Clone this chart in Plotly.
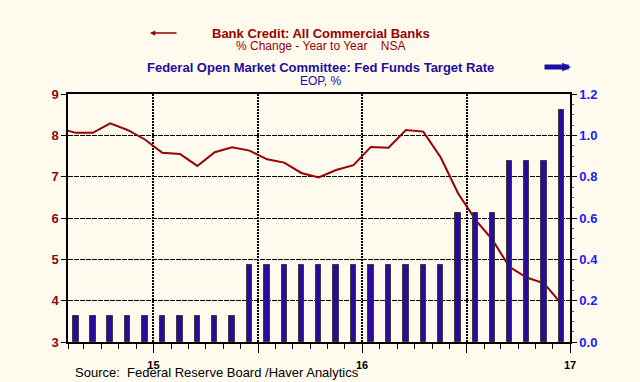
import plotly.graph_objects as go

# ---- data ----
months = ["2015-01-01", "2015-02-01", "2015-03-01", "2015-04-01", "2015-05-01", "2015-06-01",
          "2015-07-01", "2015-08-01", "2015-09-01", "2015-10-01", "2015-11-01", "2015-12-01",
          "2016-01-01", "2016-02-01", "2016-03-01", "2016-04-01", "2016-05-01", "2016-06-01",
          "2016-07-01", "2016-08-01", "2016-09-01", "2016-10-01", "2016-11-01", "2016-12-01",
          "2017-01-01", "2017-02-01", "2017-03-01", "2017-04-01", "2017-05-01", "2017-06-01"]
bank_credit_yoy = [8.17, 8.06, 8.06, 8.29, 8.13, 7.90, 7.58, 7.55, 7.26, 7.59, 7.71, 7.63,
                   7.42, 7.34, 7.09, 6.98, 7.16, 7.28, 7.72, 7.70, 8.13, 8.09, 7.47, 6.60,
                   5.95, 5.47, 4.82, 4.56, 4.42, 3.92]
fed_funds_target = [0.125, 0.125, 0.125, 0.125, 0.125, 0.125, 0.125, 0.125, 0.125, 0.125, 0.125, 0.375,
                    0.375, 0.375, 0.375, 0.375, 0.375, 0.375, 0.375, 0.375, 0.375, 0.375, 0.375, 0.625,
                    0.625, 0.625, 0.875, 0.875, 0.875, 1.125]
x_tickvals = ["2015-07-01", "2016-01-01", "2016-07-01", "2017-01-01", "2017-07-01"]
x_ticktext = ["15", "", "16", "", "17"]
left_ticks = [3, 4, 5, 6, 7, 8, 9]
right_ticks = [0.0, 0.2, 0.4, 0.6, 0.8, 1.0, 1.2]

BG = "#fffaee"
RED = "#990000"
DARK_RED = "#8a0a0a"
NAVY = "#1c0f9c"
BAR = "#2d0a9e"
BRIGHT_BLUE = "#1a1aff"
FONT = "Liberation Sans, Arial, sans-serif"

W, H = 640, 382
L, R, T, B = 68, 70, 94, 40
PW, PH = W - L - R, H - T - B


def px_x(px):
    return (px - L) / PW


def px_y(py):
    return (H - B - py) / PH


fig = go.Figure()
fig.add_trace(go.Bar(
    x=months, y=fed_funds_target, yaxis="y2",
    xperiod="M1", xperiodalignment="middle",
    width=8.3e8,
    marker=dict(color=BAR, line=dict(color="#3a3a3a", width=1)),
    showlegend=False, hoverinfo="skip",
))
fig.add_trace(go.Scatter(
    x=months, y=bank_credit_yoy, yaxis="y",
    xperiod="M1", xperiodalignment="middle",
    mode="lines", line=dict(color=RED, width=2),
    showlegend=False, hoverinfo="skip",
))

fig.update_layout(
    width=W, height=H,
    margin=dict(l=L, r=R, t=T, b=B),
    paper_bgcolor=BG, plot_bgcolor=BG,
    font=dict(family=FONT),
    bargap=0,
    xaxis=dict(
        type="date", range=["2015-02-01", "2017-07-01"],
        tickvals=x_tickvals, ticktext=x_ticktext,
        ticks="outside", ticklen=9, tickcolor="black", tickwidth=1,
        tickfont=dict(family=FONT, size=11, color="black", weight="bold"),
        ticklabelstandoff=3,
        showline=True, linecolor="black", linewidth=1.5, mirror=True,
        showgrid=True, gridcolor="black", gridwidth=1.5, griddash="2px,1px",
        minor=dict(dtick="M1", tick0="2015-02-01", ticks="outside", ticklen=5,
                   tickcolor="black", showgrid=False),
        zeroline=False,
    ),
    yaxis=dict(
        range=[3, 9], tickvals=left_ticks,
        ticks="outside", ticklen=5, tickcolor="black",
        tickfont=dict(family=FONT, size=13, color=DARK_RED, weight="bold"),
        showline=True, linecolor="black", linewidth=1.5,
        showgrid=True, gridcolor="black", gridwidth=1, griddash="5px,1px",
        zeroline=False,
    ),
    yaxis2=dict(
        range=[0, 1.2], tickvals=right_ticks, tickformat=".1f",
        overlaying="y", side="right",
        ticks="outside", ticklen=5, tickcolor="black",
        tickfont=dict(family=FONT, size=13, color=BRIGHT_BLUE, weight="bold"),
        showline=True, linecolor="black", linewidth=1.5,
        showgrid=False, zeroline=False,
        minor=dict(dtick=0.05, ticks="outside", ticklen=2, tickcolor="#555", showgrid=False),
    ),
)

# legend-like texts
fig.add_annotation(xref="paper", yref="paper", x=px_x(321), y=px_y(33),
                   text="<b>Bank Credit: All Commercial Banks</b>", showarrow=False,
                   font=dict(family=FONT, size=13, color=RED), xanchor="center", yanchor="middle")
fig.add_annotation(xref="paper", yref="paper", x=px_x(320), y=px_y(46),
                   text="% Change - Year to Year    NSA", showarrow=False,
                   font=dict(family=FONT, size=12, color=RED), xanchor="center", yanchor="middle")
fig.add_annotation(xref="paper", yref="paper", x=px_x(320), y=px_y(67),
                   text="<b>Federal Open Market Committee: Fed Funds Target Rate</b>", showarrow=False,
                   font=dict(family=FONT, size=13, color=NAVY), xanchor="center", yanchor="middle")
fig.add_annotation(xref="paper", yref="paper", x=px_x(320), y=px_y(81),
                   text="EOP, %", showarrow=False,
                   font=dict(family=FONT, size=12, color=NAVY), xanchor="center", yanchor="middle")
# red left arrow
fig.add_annotation(xref="paper", yref="paper", x=px_x(150), y=px_y(33), ax=28, ay=0,
                   text="", showarrow=True, arrowhead=2, arrowsize=0.7, arrowwidth=1.5,
                   arrowcolor=RED)
# blue right arrow
fig.add_annotation(xref="paper", yref="paper", x=px_x(571), y=px_y(67), ax=-28, ay=0,
                   text="", showarrow=True, arrowhead=2, arrowsize=0.35, arrowwidth=5,
                   arrowcolor=NAVY)
# source
fig.add_annotation(xref="paper", yref="paper", x=px_x(73), y=px_y(372),
                   text="Source:  Federal Reserve Board /Haver Analytics", showarrow=False,
                   font=dict(family=FONT, size=13, color="black"), xanchor="left", yanchor="middle")

fig.write_html("out.html",
               config={"displayModeBar": False},
               post_script="document.body.style.margin='0px';document.body.style.padding='0px';")
